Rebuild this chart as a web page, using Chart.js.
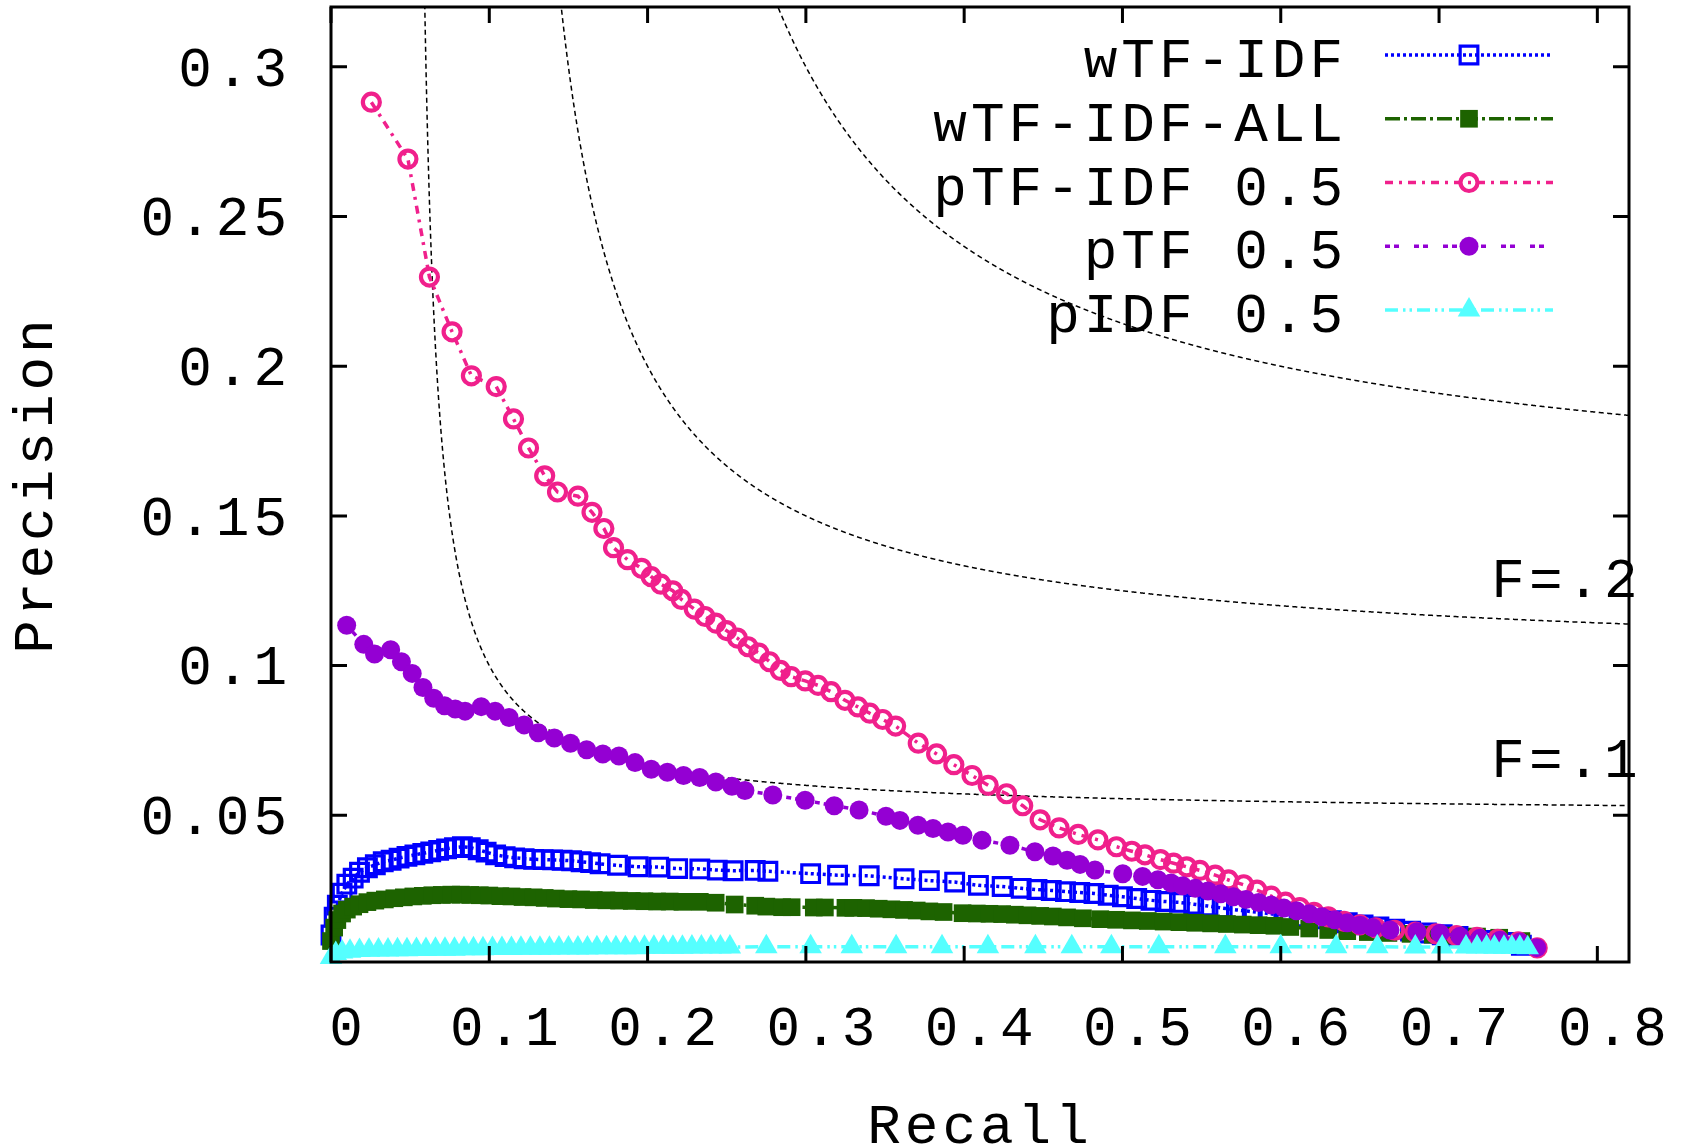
<!DOCTYPE html>
<html>
<head>
<meta charset="utf-8">
<title>Precision / Recall</title>
<script src="https://cdn.jsdelivr.net/npm/chart.js@4.4.1/dist/chart.umd.min.js"></script>
<style>
  html, body { margin: 0; padding: 0; background: #fff; }
  #prChart { display: block; }
</style>
</head>
<body>
<canvas id="prChart" width="1688" height="1145"></canvas>
<script>
// axis ticks
const xTickValues = [0, 0.1, 0.2, 0.3, 0.4, 0.5, 0.6, 0.7, 0.8];
const xTickLabels = ['0', '0.1', '0.2', '0.3', '0.4', '0.5', '0.6', '0.7', '0.8'];
const yTickValues = [0.05, 0.1, 0.15, 0.2, 0.25, 0.3];
const yTickLabels = ['0.05', '0.1', '0.15', '0.2', '0.25', '0.3'];

// F-measure contour levels (dashed guide curves), two of them labelled
const fLevels = [0.1, 0.2, 0.3];
const fLabels = ['F=.1', 'F=.2'];

const seriesNames = ['wTF-IDF', 'wTF-IDF-ALL', 'pTF-IDF 0.5', 'pTF 0.5', 'pIDF 0.5'];

// wTF-IDF
const wtfidfRecall = [
  0, 0.002, 0.004, 0.007, 0.010, 0.014, 0.018, 0.023, 0.028, 0.033,
  0.038, 0.043, 0.048, 0.053, 0.058, 0.063, 0.068, 0.073, 0.078, 0.083,
  0.088, 0.093, 0.098, 0.104, 0.110, 0.116, 0.122, 0.128, 0.134, 0.140,
  0.146, 0.152, 0.158, 0.164, 0.170, 0.181, 0.194, 0.207, 0.219, 0.233,
  0.244, 0.254, 0.268, 0.276, 0.303, 0.320, 0.340, 0.362, 0.378, 0.394,
  0.409, 0.424, 0.436, 0.446, 0.455, 0.464, 0.473, 0.482, 0.491, 0.500,
  0.509, 0.518, 0.527, 0.536, 0.545, 0.554, 0.563, 0.572, 0.582, 0.592,
  0.602, 0.612, 0.622, 0.632, 0.642, 0.652, 0.662, 0.672, 0.682, 0.692,
  0.702, 0.712, 0.722, 0.732, 0.742, 0.752
];
const wtfidfPrecision = [
  0.0100, 0.0160, 0.0200, 0.0240, 0.0270, 0.0290, 0.0310, 0.0325, 0.0335, 0.0345,
  0.0350, 0.0357, 0.0363, 0.0368, 0.0373, 0.0378, 0.0383, 0.0388, 0.0392, 0.0395,
  0.0392, 0.0385, 0.0377, 0.0368, 0.0362, 0.0358, 0.0355, 0.0353, 0.0352, 0.0351,
  0.0350, 0.0348, 0.0345, 0.0342, 0.0338, 0.0333, 0.0328, 0.0327, 0.0322, 0.0321,
  0.0317, 0.0315, 0.0316, 0.0313, 0.0305, 0.0300, 0.0298, 0.0288, 0.0282, 0.0277,
  0.0266, 0.0262, 0.0256, 0.0252, 0.0249, 0.0245, 0.0242, 0.0239, 0.0233, 0.0228,
  0.0222, 0.0216, 0.0212, 0.0209, 0.0203, 0.0197, 0.0190, 0.0184, 0.0178, 0.0172,
  0.0166, 0.0160, 0.0154, 0.0148, 0.0141, 0.0134, 0.0127, 0.0120, 0.0113, 0.0107,
  0.0101, 0.0095, 0.0089, 0.0082, 0.0075, 0.0066
];

// wTF-IDF-ALL
const wtfidfAllRecall = [
  0, 0.002, 0.004, 0.007, 0.010, 0.014, 0.018, 0.023, 0.028, 0.034,
  0.040, 0.046, 0.052, 0.058, 0.064, 0.070, 0.076, 0.082, 0.088, 0.094,
  0.100, 0.107, 0.114, 0.121, 0.128, 0.135, 0.142, 0.150, 0.158, 0.166,
  0.174, 0.182, 0.190, 0.198, 0.206, 0.214, 0.222, 0.233, 0.243, 0.255,
  0.268, 0.275, 0.285, 0.291, 0.305, 0.312, 0.325, 0.330, 0.338, 0.346,
  0.354, 0.362, 0.370, 0.378, 0.387, 0.399, 0.408, 0.416, 0.424, 0.432,
  0.440, 0.448, 0.456, 0.465, 0.475, 0.486, 0.496, 0.506, 0.516, 0.526,
  0.536, 0.546, 0.556, 0.566, 0.576, 0.586, 0.596, 0.606, 0.618, 0.630,
  0.642, 0.655, 0.668, 0.682, 0.696, 0.710, 0.724, 0.738, 0.752
];
const wtfidfAllPrecision = [
  0.0080, 0.0125, 0.0150, 0.0172, 0.0185, 0.0195, 0.0203, 0.0210, 0.0215, 0.0219,
  0.0223, 0.0226, 0.0229, 0.0231, 0.0233, 0.0234, 0.0235, 0.0235, 0.0234, 0.0233,
  0.0232, 0.0230, 0.0229, 0.0227, 0.0226, 0.0224, 0.0222, 0.0220, 0.0219, 0.0217,
  0.0216, 0.0215, 0.0214, 0.0213, 0.0212, 0.0212, 0.0211, 0.0211, 0.0208, 0.0202,
  0.0198, 0.0195, 0.0193, 0.0193, 0.0192, 0.0192, 0.0191, 0.0191, 0.0190, 0.0188,
  0.0186, 0.0184, 0.0182, 0.0179, 0.0177, 0.0173, 0.0172, 0.0171, 0.0170, 0.0168,
  0.0166, 0.0164, 0.0162, 0.0159, 0.0156, 0.0153, 0.0151, 0.0149, 0.0147, 0.0145,
  0.0143, 0.0141, 0.0139, 0.0137, 0.0135, 0.0133, 0.0131, 0.0127, 0.0122, 0.0117,
  0.0113, 0.0110, 0.0107, 0.0104, 0.0101, 0.0098, 0.0095, 0.0091, 0.0080
];

// pTF-IDF 0.5
const ptfidfRecall = [
  0.0255, 0.0486, 0.0622, 0.0765, 0.0887, 0.1044, 0.1153, 0.1248, 0.1350, 0.1431,
  0.1560, 0.1649, 0.1724, 0.1785, 0.1873, 0.1962, 0.2023, 0.2084, 0.2159, 0.2214,
  0.2295, 0.2363, 0.2431, 0.2499, 0.2567, 0.2635, 0.2703, 0.2771, 0.2839, 0.2907,
  0.2996, 0.3077, 0.3159, 0.3247, 0.3329, 0.3404, 0.3485, 0.3567, 0.3710, 0.3826,
  0.3935, 0.4050, 0.4152, 0.4268, 0.4370, 0.4480, 0.4600, 0.4720, 0.4845, 0.4962,
  0.5059, 0.5142, 0.5240, 0.5323, 0.5406, 0.5489, 0.5586, 0.5670, 0.5766, 0.5850,
  0.5940, 0.6030, 0.6120, 0.6210, 0.6300, 0.6400, 0.6500, 0.6600, 0.6720, 0.6850,
  0.6980, 0.7110, 0.7240, 0.7370, 0.7500, 0.7620
];
const ptfidfPrecision = [
  0.2882, 0.2692, 0.2298, 0.2115, 0.1968, 0.1932, 0.1824, 0.1727, 0.1634, 0.1580,
  0.1566, 0.1512, 0.1458, 0.1394, 0.1354, 0.1325, 0.1297, 0.1272, 0.1250, 0.1221,
  0.1189, 0.1164, 0.1142, 0.1117, 0.1092, 0.1063, 0.1042, 0.1013, 0.0984, 0.0963,
  0.0949, 0.0934, 0.0913, 0.0884, 0.0862, 0.0841, 0.0820, 0.0798, 0.0741, 0.0705,
  0.0669, 0.0633, 0.0600, 0.0572, 0.0532, 0.0485, 0.0458, 0.0436, 0.0418, 0.0395,
  0.0380, 0.0368, 0.0352, 0.0340, 0.0328, 0.0316, 0.0300, 0.0284, 0.0268, 0.0250,
  0.0230, 0.0210, 0.0192, 0.0176, 0.0161, 0.0146, 0.0134, 0.0124, 0.0116, 0.0110,
  0.0104, 0.0098, 0.0092, 0.0086, 0.0077, 0.0057
];

// pTF 0.5
const ptfRecall = [
  0.0099, 0.0207, 0.0275, 0.0377, 0.0445, 0.0513, 0.0581, 0.0649, 0.0717, 0.0785,
  0.0847, 0.0949, 0.1037, 0.1125, 0.1220, 0.1309, 0.1411, 0.1513, 0.1615, 0.1717,
  0.1819, 0.1921, 0.2023, 0.2125, 0.2227, 0.2329, 0.2431, 0.2533, 0.2615, 0.2791,
  0.2995, 0.3179, 0.3336, 0.3506, 0.3594, 0.3708, 0.3803, 0.3898, 0.3992, 0.4112,
  0.4289, 0.4447, 0.4561, 0.4650, 0.4732, 0.4826, 0.5002, 0.5127, 0.5224, 0.5307,
  0.5380, 0.5460, 0.5540, 0.5620, 0.5700, 0.5780, 0.5860, 0.5940, 0.6020, 0.6100,
  0.6180, 0.6260, 0.6340, 0.6420, 0.6500, 0.6580, 0.6690, 0.6860, 0.7006, 0.7132,
  0.7258, 0.7385, 0.7511, 0.7617
];
const ptfPrecision = [
  0.1135, 0.1071, 0.1039, 0.1053, 0.1013, 0.0974, 0.0927, 0.0891, 0.0866, 0.0855,
  0.0848, 0.0863, 0.0848, 0.0827, 0.0802, 0.0776, 0.0758, 0.0741, 0.0719, 0.0705,
  0.0698, 0.0676, 0.0654, 0.0644, 0.0633, 0.0626, 0.0611, 0.0597, 0.0583, 0.0568,
  0.0550, 0.0532, 0.0518, 0.0497, 0.0483, 0.0467, 0.0456, 0.0444, 0.0433, 0.0417,
  0.0400, 0.0378, 0.0364, 0.0350, 0.0336, 0.0317, 0.0305, 0.0296, 0.0285, 0.0274,
  0.0265, 0.0256, 0.0247, 0.0238, 0.0228, 0.0219, 0.0209, 0.0200, 0.0190, 0.0181,
  0.0171, 0.0161, 0.0151, 0.0141, 0.0133, 0.0125, 0.0117, 0.0111, 0.0106, 0.0096,
  0.0089, 0.0083, 0.0077, 0.0058
];

// pIDF 0.5
const pidfRecall = [
  0, 0.003, 0.007, 0.012, 0.018, 0.024, 0.030, 0.036, 0.042, 0.048,
  0.054, 0.060, 0.066, 0.072, 0.078, 0.084, 0.090, 0.096, 0.102, 0.108,
  0.114, 0.120, 0.126, 0.132, 0.138, 0.144, 0.150, 0.156, 0.162, 0.168,
  0.174, 0.180, 0.186, 0.192, 0.198, 0.204, 0.210, 0.216, 0.222, 0.228,
  0.234, 0.240, 0.246, 0.252, 0.275, 0.303, 0.329, 0.357, 0.386, 0.415,
  0.445, 0.468, 0.493, 0.523, 0.565, 0.600, 0.635, 0.661, 0.685, 0.702,
  0.717, 0.724, 0.730, 0.735, 0.741, 0.746, 0.751, 0.756
];
const pidfPrecision = [
  0.0025, 0.0038, 0.0043, 0.0046, 0.0048, 0.0049, 0.0050, 0.0050, 0.0051, 0.0051,
  0.0052, 0.0052, 0.0053, 0.0053, 0.0053, 0.0054, 0.0054, 0.0054, 0.0055, 0.0055,
  0.0055, 0.0056, 0.0056, 0.0056, 0.0056, 0.0057, 0.0057, 0.0057, 0.0057, 0.0058,
  0.0058, 0.0058, 0.0058, 0.0058, 0.0059, 0.0059, 0.0059, 0.0059, 0.0059, 0.0060,
  0.0060, 0.0060, 0.0060, 0.0060, 0.0061, 0.0061, 0.0061, 0.0061, 0.0061, 0.0061,
  0.0061, 0.0061, 0.0061, 0.0061, 0.0061, 0.0061, 0.0061, 0.0061, 0.0060, 0.0060,
  0.0060, 0.0060, 0.0060, 0.0059, 0.0059, 0.0059, 0.0059, 0.0058
];


const FONT_FAMILY = '"Liberation Mono", "Courier New", monospace';
const FONT_SIZE = 56;
const FONT = FONT_SIZE + 'px ' + FONT_FAMILY;
const LETTER_SPACING = '4px';

function toPoints(recall, precision) {
  return recall.map((r, i) => ({ x: r, y: precision[i] }));
}

function series(i, recall, precision, style) {
  return Object.assign({
    label: seriesNames[i],
    data: toPoints(recall, precision),
    showLine: true,
    fill: false,
    tension: 0,
    borderWidth: 3.5,
    clip: false,
    order: 5 - i
  }, style);
}

const datasets = [
  series(0, wtfidfRecall, wtfidfPrecision, {
    borderColor: '#0000ff', borderDash: [3, 3],
    pointStyle: 'rect', pointRadius: 12.5, pointBorderWidth: 3.2,
    pointBorderColor: '#0000ff', pointBackgroundColor: 'rgba(0,0,0,0)'
  }),
  series(1, wtfidfAllRecall, wtfidfAllPrecision, {
    borderColor: '#1d6300', borderDash: [15, 4, 3, 4],
    pointStyle: 'rect', pointRadius: 12.5, pointBorderWidth: 0,
    pointBorderColor: '#1d6300', pointBackgroundColor: '#1d6300'
  }),
  series(2, ptfidfRecall, ptfidfPrecision, {
    borderColor: '#f0208c', borderDash: [8, 6, 3, 6],
    pointStyle: 'circle', pointRadius: 8.5, pointBorderWidth: 4.2,
    pointBorderColor: '#f0208c', pointBackgroundColor: 'rgba(0,0,0,0)'
  }),
  series(3, ptfRecall, ptfPrecision, {
    borderColor: '#9400d3', borderDash: [5, 4, 5, 15],
    pointStyle: 'circle', pointRadius: 9.5, pointBorderWidth: 0,
    pointBorderColor: '#9400d3', pointBackgroundColor: '#9400d3'
  }),
  series(4, pidfRecall, pidfPrecision, {
    borderColor: '#55ffff', borderDash: [13, 5, 2.5, 4, 2.5, 5],
    pointStyle: 'triangle', pointRadius: 13, pointBorderWidth: 0,
    pointBorderColor: '#55ffff', pointBackgroundColor: '#55ffff'
  })
];

// spacing between letters like the gnuplot monospace font
const textSpacing = {
  id: 'textSpacing',
  beforeDraw(chart) { chart.ctx.letterSpacing = LETTER_SPACING; }
};

// F-measure iso-curves P = F*R / (2R - F), under the data
const isoF = {
  id: 'isoF',
  beforeDatasetsDraw(chart) {
    const { ctx, chartArea: a, scales: { x, y } } = chart;
    ctx.save();
    ctx.beginPath();
    ctx.rect(a.left, a.top, a.right - a.left, a.bottom - a.top);
    ctx.clip();
    ctx.strokeStyle = '#000';
    ctx.lineWidth = 1.5;
    ctx.setLineDash([5, 3.5]);
    fLevels.forEach(f => {
      ctx.beginPath();
      let started = false;
      for (let px = a.left; px <= a.right; px += 0.25) {
        const r = x.getValueForPixel(px);
        if (2 * r - f <= 0) continue;
        const py = Math.max(y.getPixelForValue(f * r / (2 * r - f)), a.top - 40);
        if (!started) { ctx.moveTo(px, py); started = true; }
        else ctx.lineTo(px, py);
      }
      ctx.stroke();
    });
    ctx.restore();
  }
};

// border, inward ticks on all sides, F labels and the legend on top
const frame = {
  id: 'frame',
  afterDatasetsDraw(chart) {
    const { ctx, chartArea: a, scales: { x, y } } = chart;
    const tick = 16;
    ctx.save();
    ctx.strokeStyle = '#000';
    ctx.lineWidth = 3;
    ctx.setLineDash([]);
    ctx.beginPath();
    xTickValues.forEach(v => {
      const px = x.getPixelForValue(v);
      ctx.moveTo(px, a.bottom); ctx.lineTo(px, a.bottom - tick);
      ctx.moveTo(px, a.top); ctx.lineTo(px, a.top + tick);
    });
    yTickValues.forEach(v => {
      const py = y.getPixelForValue(v);
      ctx.moveTo(a.left, py); ctx.lineTo(a.left + tick, py);
      ctx.moveTo(a.right, py); ctx.lineTo(a.right - tick, py);
    });
    ctx.stroke();
    ctx.strokeRect(a.left, a.top, a.right - a.left, a.bottom - a.top);

    ctx.font = FONT;
    ctx.fillStyle = '#000';
    ctx.textBaseline = 'alphabetic';

    // contour labels
    ctx.textAlign = 'left';
    ctx.fillText(fLabels[0], x.getPixelForValue(0.733), y.getPixelForValue(0.0628));
    ctx.fillText(fLabels[1], x.getPixelForValue(0.733), y.getPixelForValue(0.1228));

    // legend: text, then line sample with marker
    const lineL = a.right - 244, lineR = a.right - 76, mark = a.right - 160;
    chart.data.datasets.forEach((ds, i) => {
      const ly = a.top + 48 + i * 63.75;
      ctx.textAlign = 'right';
      ctx.fillStyle = '#000';
      ctx.fillText(ds.label, a.right - 282, ly + 22);
      ctx.strokeStyle = ds.borderColor;
      ctx.lineWidth = ds.borderWidth;
      ctx.setLineDash(ds.borderDash);
      ctx.beginPath(); ctx.moveTo(lineL, ly); ctx.lineTo(lineR, ly); ctx.stroke();
      ctx.setLineDash([]);
      ctx.fillStyle = ds.pointBackgroundColor;
      ctx.strokeStyle = ds.pointBorderColor;
      ctx.lineWidth = ds.pointBorderWidth;
      Chart.helpers.drawPoint(ctx, {
        pointStyle: ds.pointStyle, radius: ds.pointRadius,
        rotation: 0, borderWidth: ds.pointBorderWidth
      }, mark, ly);
    });
    ctx.restore();
  }
};

const tickFont = { family: FONT_FAMILY, size: FONT_SIZE };

new Chart(document.getElementById('prChart').getContext('2d'), {
  type: 'scatter',
  data: { datasets: datasets },
  plugins: [textSpacing, isoF, frame],
  options: {
    responsive: false,
    animation: false,
    devicePixelRatio: 1,
    layout: { autoPadding: false, padding: { top: 7, right: 59, left: 0, bottom: 0 } },
    plugins: { legend: { display: false }, tooltip: { enabled: false } },
    scales: {
      x: {
        type: 'linear', min: 0, max: 0.82,
        afterFit(s) { s.height = 183; s.paddingLeft = 0; s.paddingRight = 0; },
        afterBuildTicks(s) { s.ticks = xTickValues.map(v => ({ value: v })); },
        grid: { display: false, drawTicks: false },
        border: { display: false },
        ticks: {
          font: tickFont, color: '#000', padding: 35, labelOffset: 17,
          maxRotation: 0, autoSkip: false,
          callback: (v, i) => xTickLabels[i]
        },
        title: {
          display: true, text: 'Recall', color: '#000', padding: 0,
          font: { family: FONT_FAMILY, size: FONT_SIZE, lineHeight: 0.61 }
        }
      },
      y: {
        type: 'linear', min: 0.001, max: 0.32,
        afterFit(s) { s.width = 331; s.paddingTop = 0; s.paddingBottom = 0; },
        afterBuildTicks(s) { s.ticks = yTickValues.map(v => ({ value: v })); },
        grid: { display: false, drawTicks: false },
        border: { display: false },
        ticks: {
          font: tickFont, color: '#000', padding: 40, labelOffset: 4,
          autoSkip: false,
          callback: (v, i) => yTickLabels[i]
        },
        title: {
          display: true, text: 'Precision', color: '#000', padding: 0,
          font: { family: FONT_FAMILY, size: FONT_SIZE, lineHeight: 1.31 }
        }
      }
    }
  }
});
</script>
</body>
</html>
